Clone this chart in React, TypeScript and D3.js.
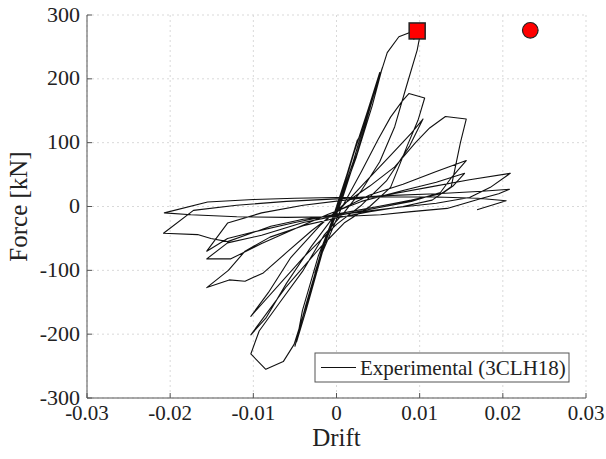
import React from "react";
import * as d3 from "d3";

// Hysteresis loop (Drift, Force [kN])
const drift: number[] = [
  0, 0.0012, 0.0025, 0.0014, 0.0002, -0.0012, -0.0025, -0.0014, -0.0002,
  0.0012, 0.0026, 0.0015, 0.0003, -0.0013, -0.0026, -0.0013, 0,
  0.0024, 0.0043, 0.0055, 0.0046, 0.0025, 0.0006, -0.0018, -0.0037, -0.005, -0.0042, -0.0022, -0.0002,
  0.0018, 0.0038, 0.0052, 0.0042, 0.002, 0.0002, -0.0022, -0.0041, -0.0048, -0.0036, -0.0014, 0.0006,
  0.0025, 0.0043, 0.0061, 0.0075, 0.0089, 0.0093, 0.0096, 0.0101, 0.0097, 0.0084, 0.007, 0.0052, 0.003, 0.001,
  -0.0015, -0.004, -0.0068, -0.0093, -0.0103, -0.0085, -0.0064, -0.0051,
  -0.0035, -0.0018, 0.0005, 0.003, 0.005, 0.0065, 0.0079, 0.0087, 0.0106, 0.0098, 0.0085, 0.0065, 0.004, 0.001,
  -0.002, -0.006, -0.0103, -0.0085, -0.006, -0.003, 0, 0.003, 0.0065, 0.009, 0.0104, 0.0088, 0.006, 0.003, 0,
  -0.004, -0.0103, -0.0082, -0.0055, -0.002, 0.001,
  0.004, 0.007, 0.0095, 0.0112, 0.0131, 0.0156, 0.0149, 0.0138, 0.0115, 0.008, 0.004, 0, -0.004, -0.008,
  -0.011, -0.013, -0.0156, -0.0129, -0.011, -0.0088, -0.006, -0.003, 0, 0.004, 0.008, 0.012, 0.0156,
  0.0138, 0.0125, 0.009, 0.005, 0.001, -0.004, -0.009, -0.0131, -0.0156, -0.0127, -0.009, -0.005, -0.001,
  0.003, 0.008, 0.012, 0.0154, 0.014, 0.0128, 0.009, 0.005, 0, -0.005, -0.01, -0.0131, -0.0156,
  -0.0131, -0.009, -0.004, 0.001, 0.006, 0.011, 0.016, 0.0209, 0.0185, 0.016, 0.012, 0.007, 0.002, -0.004,
  -0.0079, -0.0131, -0.0151, -0.0167, -0.0208,
  -0.0172, -0.012, -0.006, 0, 0.006, 0.012, 0.0175, 0.0208, 0.0195, 0.0175, 0.0133, 0.009, 0.0053, 0,
  -0.006, -0.012, -0.0175, -0.0207,
  -0.0155, -0.01, -0.005, 0, 0.006, 0.012, 0.017, 0.0204, 0.0169,
];
const force: number[] = [
  0, 48, 104, 55, 6, -48, -100, -52, -10,
  46, 106, 58, 8, -52, -104, -50, -8,
  78, 158, 217, 180, 85, 8, -70, -155, -219, -180, -90, -8,
  72, 152, 210, 168, 70, 2, -78, -163, -212, -160, -58, 8,
  85, 167, 241, 266, 273, 262, 268, 272, 245, 188, 125, 70, 25, -8,
  -45, -100, -150, -195, -231, -255, -243, -216,
  -150, -75, -5, 55, 105, 140, 165, 177, 170, 135, 95, 30, 0, -25,
  -65, -125, -201, -175, -120, -62, -10, 32, 80, 115, 137, 95, 40, 2, -28,
  -80, -172, -135, -80, -30, 5,
  32, 62, 100, 123, 141, 137, 100, 31, 10, 0, -8, -18, -30, -48,
  -70, -100, -127, -115, -117, -104, -72, -38, -8, 18, 35, 55, 72,
  45, 22, 8, -2, -12, -25, -45, -57, -82, -82, -58, -35, -12,
  8, 25, 38, 52, 32, 21, 10, 0, -12, -25, -40, -50, -70,
  -26, -10, 2, 10, 18, 30, 42, 52, 30, 14, 5, -2, -10, -20,
  -31, -55, -50, -44, -42,
  -6, 2, 8, 12, 17, 20, 24, 27, 20, 13, -3, -8, -13, -16,
  -17, -16, -13, -10,
  7, 11, 13, 14, 15, 15, 13, 9, -5,
];

const markerDrift: number[] = [0.0097, 0.0233];
const markerForce: number[] = [275, 276];
const markerShape: string[] = ["square", "circle"];

const xTicks: number[] = [-0.03, -0.02, -0.01, 0, 0.01, 0.02, 0.03];
const yTicks: number[] = [-300, -200, -100, 0, 100, 200, 300];
const xTickLabels: string[] = ["-0.03", "-0.02", "-0.01", "0", "0.01", "0.02", "0.03"];
const yTickLabels: string[] = ["-300", "-200", "-100", "0", "100", "200", "300"];
const legendLabel = "Experimental (3CLH18)";

const W = 606;
const H = 459;
const L = 87, R = 586, T = 15, B = 398;
const FONT = "'Liberation Serif', 'Times New Roman', serif";

export default function App() {
  const x = d3.scaleLinear().domain([-0.03, 0.03]).range([L, R]);
  const y = d3.scaleLinear().domain([-300, 300]).range([B, T]);
  const pts: [number, number][] = drift.map((d, i) => [d, force[i]]);
  const line = d3.line<[number, number]>().x((d) => x(d[0])).y((d) => y(d[1]));

  return (
    <svg width={W} height={H} style={{ position: "absolute", left: 0, top: 0, background: "#fff" }}>
      <rect x={0} y={0} width={W} height={H} fill="#fff" />
      {/* grid */}
      {xTicks.map((t) => (
        <line key={"gx" + t} x1={x(t)} x2={x(t)} y1={T} y2={B} stroke="#d9d9d9" strokeWidth={1} strokeDasharray="2,3" />
      ))}
      {yTicks.map((t) => (
        <line key={"gy" + t} x1={L} x2={R} y1={y(t)} y2={y(t)} stroke="#d9d9d9" strokeWidth={1} strokeDasharray="2,3" />
      ))}
      {/* data */}
      <path d={line(pts) || ""} fill="none" stroke="#111" strokeWidth={1.1} strokeLinejoin="round" />
      {/* markers */}
      {markerDrift.map((d, i) =>
        markerShape[i] === "square" ? (
          <rect key={"m" + i} x={x(d) - 8} y={y(markerForce[i]) - 8} width={16} height={16} fill="#ff0000" stroke="#222" strokeWidth={1.5} />
        ) : (
          <circle key={"m" + i} cx={x(d)} cy={y(markerForce[i])} r={7.8} fill="#ff0000" stroke="#222" strokeWidth={1.2} />
        )
      )}
      {/* axes */}
      <line x1={L} x2={L} y1={T} y2={B} stroke="#555" strokeWidth={1} />
      <line x1={L} x2={R} y1={B} y2={B} stroke="#555" strokeWidth={1} />
      {xTicks.map((t) => (
        <line key={"tx" + t} x1={x(t)} x2={x(t)} y1={B} y2={B - 5} stroke="#555" strokeWidth={1} />
      ))}
      {yTicks.map((t) => (
        <line key={"ty" + t} x1={L} x2={L + 5} y1={y(t)} y2={y(t)} stroke="#555" strokeWidth={1} />
      ))}
      {xTicks.map((t, i) => (
        <text key={"lx" + t} x={x(t)} y={420} textAnchor="middle" fontFamily={FONT} fontSize={21} fill="#222">
          {xTickLabels[i]}
        </text>
      ))}
      {yTicks.map((t, i) => (
        <text key={"ly" + t} x={80} y={y(t) + 6.5} textAnchor="end" fontFamily={FONT} fontSize={22} fill="#222">
          {yTickLabels[i]}
        </text>
      ))}
      <text x={(L + R) / 2} y={446} textAnchor="middle" fontFamily={FONT} fontSize={25} fill="#222">
        Drift
      </text>
      <text transform={`translate(27,${(T + B) / 2}) rotate(-90)`} textAnchor="middle" fontFamily={FONT} fontSize={25} fill="#222">
        Force [kN]
      </text>
      {/* legend */}
      <rect x={315} y={353} width={254} height={29} fill="#fff" stroke="#555" strokeWidth={1} />
      <line x1={321} x2={356} y1={367.5} y2={367.5} stroke="#111" strokeWidth={1.1} />
      <text x={360} y={375} fontFamily={FONT} fontSize={21} fill="#222">
        {legendLabel}
      </text>
    </svg>
  );
}
